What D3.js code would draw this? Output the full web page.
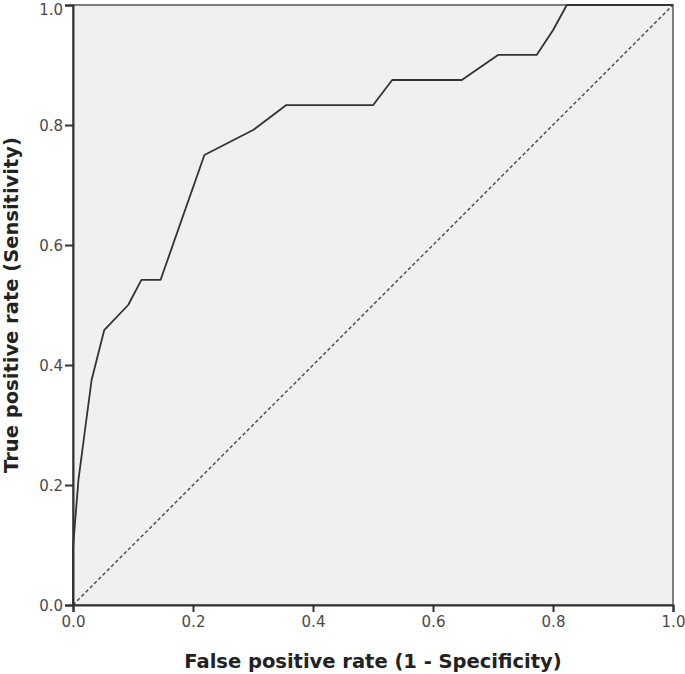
<!DOCTYPE html>
<html>
<head>
<meta charset="utf-8">
<script src="https://cdn.jsdelivr.net/npm/d3@7/dist/d3.min.js"></script>
<style>
html,body{margin:0;padding:0;background:#fff;}
svg{display:block;}
</style>
</head>
<body>
<svg id="chart" width="685" height="674"></svg>
<script>
const fpr = [0, 0, 0.009, 0.031, 0.052, 0.092, 0.114, 0.146, 0.219, 0.301, 0.355, 0.5, 0.532, 0.648, 0.709, 0.773, 0.8, 0.823, 1];
const tpr = [0, 0.095, 0.208, 0.375, 0.458, 0.5, 0.542, 0.542, 0.75, 0.792, 0.833, 0.833, 0.875, 0.875, 0.917, 0.917, 0.958, 1, 1];
const refX = [0, 1];
const refY = [0, 1];
const tickVals = [0, 0.2, 0.4, 0.6, 0.8, 1.0];
const xTitle = "False positive rate (1 - Specificity)";
const yTitle = "True positive rate (Sensitivity)";

const svg = d3.select("#chart");
const L = 73, R = 673, T = 5, B = 605;
const x = d3.scaleLinear().domain([0, 1]).range([L, R]);
const y = d3.scaleLinear().domain([0, 1]).range([B, T]);

svg.append("rect").attr("x", L).attr("y", T).attr("width", R - L).attr("height", B - T)
  .attr("fill", "#f0f0f0").attr("stroke", "#555").attr("stroke-width", 1.5);

const line = d3.line().x(d => x(d[0])).y(d => y(d[1]));

svg.append("path").datum(refX.map((v, i) => [v, refY[i]]))
  .attr("d", line).attr("fill", "none").attr("stroke", "#444")
  .attr("stroke-width", 1.4).attr("stroke-dasharray", "3.5,2.5");

svg.append("path").datum(fpr.map((v, i) => [v, tpr[i]]))
  .attr("d", line).attr("fill", "none").attr("stroke", "#333")
  .attr("stroke-width", 1.8).attr("stroke-linejoin", "round");

const fmt = d3.format(".1f");
const xAxis = svg.append("g").attr("transform", `translate(0,${B})`)
  .call(d3.axisBottom(x).tickValues(tickVals).tickFormat(fmt).tickSize(7).tickPadding(4));
const yAxis = svg.append("g").attr("transform", `translate(${L},0)`)
  .call(d3.axisLeft(y).tickValues(tickVals).tickFormat(fmt).tickSize(8).tickPadding(2));

[xAxis, yAxis].forEach(g => {
  g.select(".domain").attr("stroke", "#333").attr("stroke-width", 2);
  g.selectAll(".tick line").attr("stroke", "#333").attr("stroke-width", 2);
  g.selectAll(".tick text").attr("fill", "#4a4a4a")
    .style("font-family", "DejaVu Sans, sans-serif").style("font-size", "15px");
});
yAxis.selectAll(".tick text").attr("dy", d => d === 1 ? "0.62em" : "0.36em");

svg.append("text").attr("x", (L + R) / 2).attr("y", 668)
  .attr("text-anchor", "middle").attr("fill", "#222")
  .style("font-family", "DejaVu Sans, sans-serif").style("font-size", "19.5px").style("font-weight", "bold")
  .text(xTitle);

svg.append("text").attr("transform", `translate(18,${(T + B) / 2}) rotate(-90)`)
  .attr("text-anchor", "middle").attr("fill", "#222")
  .style("font-family", "DejaVu Sans, sans-serif").style("font-size", "19.5px").style("font-weight", "bold")
  .text(yTitle);
</script>
</body>
</html>
